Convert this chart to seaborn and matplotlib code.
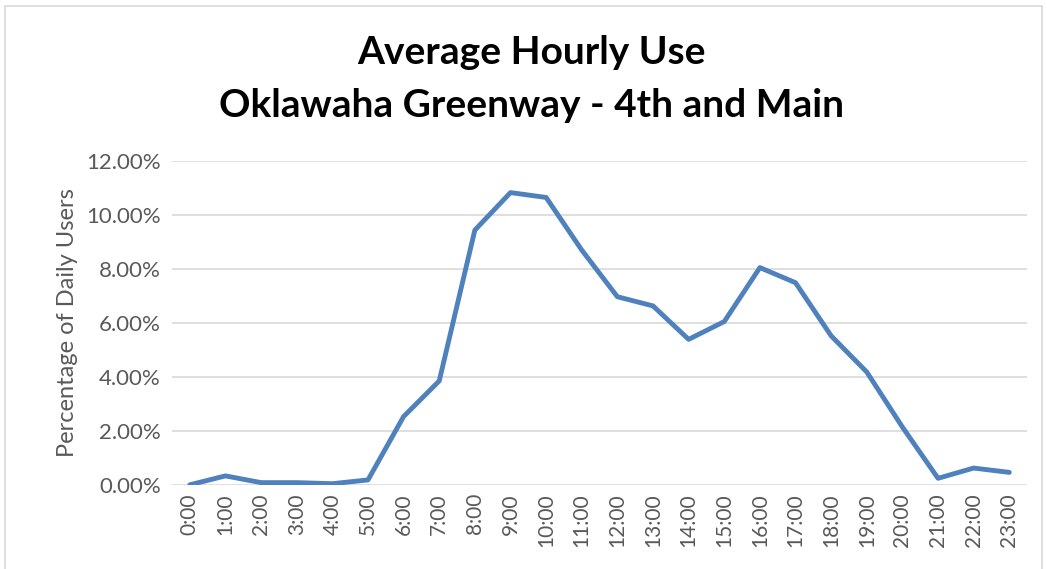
import matplotlib
matplotlib.use("Agg")
from matplotlib import pyplot as plt
from matplotlib.ticker import PercentFormatter
from matplotlib.patches import Rectangle
import seaborn as sns
import pandas as pd

hours = [f"{h}:00" for h in range(24)]
pct_users = [0.00, 0.33, 0.08, 0.08, 0.04, 0.18, 2.53, 3.85, 9.44, 10.83, 10.65, 8.70,
             6.97, 6.63, 5.39, 6.05, 8.05, 7.49, 5.52, 4.18, 2.14, 0.24, 0.62, 0.46]

sns.set_style("white")
plt.rcParams['font.family'] = ['Lato', 'DejaVu Sans']

df = pd.DataFrame({'hour': hours, 'pct': pct_users})

fig = plt.figure(figsize=(10.47, 5.69), dpi=100)
ax = fig.add_axes([0.1643, 0.148, 0.8167, 0.569])

sns.lineplot(data=df, x='hour', y='pct', ax=ax, color='#4F81BD', linewidth=3.5, sort=False)

ax.set_xlim(-0.5, 23.5)
ax.set_ylim(0, 12)
ax.set_yticks([0, 2, 4, 6, 8, 10, 12])
ax.yaxis.set_major_formatter(PercentFormatter(xmax=100, decimals=2))
ax.grid(axis='y', color='#d9d9d9', linewidth=1.2)
ax.set_axisbelow(True)
for s in ax.spines.values():
    s.set_visible(False)

ax.tick_params(axis='y', length=0, labelsize=16, labelcolor='#595959', pad=8)
ax.tick_params(axis='x', length=0, labelsize=15, labelcolor='#595959', pad=6)
plt.setp(ax.get_xticklabels(), rotation=90)
ax.set_xlabel('')
ax.set_ylabel('Percentage of Daily Users', fontsize=17, color='#595959', labelpad=6)

fig.text(0.508, 0.908, 'Average Hourly Use', ha='center', va='center',
         fontsize=28, fontweight='bold', color='black')
fig.text(0.508, 0.815, 'Oklawaha Greenway - 4th and Main', ha='center', va='center',
         fontsize=28, fontweight='bold', color='black')

# light chart border
fig.patches.append(Rectangle((0.005, -0.01), 0.99, 1.0, transform=fig.transFigure,
                             fill=False, edgecolor='#d9d9d9', linewidth=1.2))

fig.savefig('out.png', dpi=100)
